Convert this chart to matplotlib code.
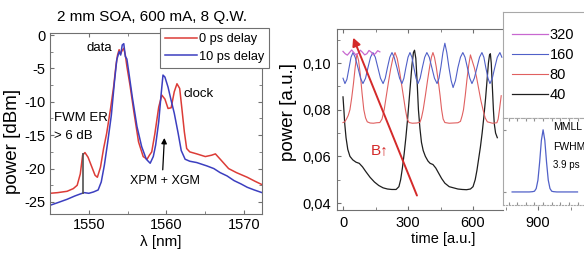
import matplotlib
matplotlib.use('Agg')
import matplotlib.pyplot as plt
from matplotlib.ticker import MultipleLocator, FuncFormatter

plt.rcParams['font.family'] = ['Liberation Sans', 'DejaVu Sans']
plt.rcParams['axes.unicode_minus'] = False

# --- left panel: optical spectra ---
red_wl = [1545.0, 1546.0, 1547.2, 1548.0, 1548.5, 1548.9, 1549.2, 1549.5, 1549.9, 1550.4,
          1550.8, 1551.1, 1551.5, 1551.9, 1552.3, 1552.8, 1553.2, 1553.5, 1553.7, 1553.9,
          1554.1, 1554.3, 1554.5, 1554.7, 1554.9, 1555.3, 1555.8, 1556.4, 1557.0, 1557.5,
          1557.8, 1558.1, 1558.5, 1559.0, 1559.4, 1559.8, 1560.2, 1560.6, 1561.0, 1561.35,
          1561.7, 1562.0, 1562.3, 1562.6, 1563.0, 1563.9, 1565.0, 1565.8, 1566.3, 1567.0,
          1568.0, 1569.0, 1570.4, 1571.4, 1572.3]
red_pw = [-23.7, -23.6, -23.4, -23.0, -22.5, -20.8, -18.0, -17.6, -18.3, -19.8,
          -21.0, -21.3, -19.8, -17.0, -14.7, -11.0, -7.7, -4.5, -3.0, -2.2,
          -2.8, -2.3, -2.0, -3.0, -4.7, -7.5, -11.5, -16.0, -18.2, -18.6,
          -18.0, -17.5, -14.8, -10.8, -9.0, -9.6, -11.0, -10.9, -8.5, -7.3,
          -8.0, -11.2, -14.5, -17.0, -17.5, -17.8, -18.2, -18.0, -17.8, -18.7,
          -20.0, -20.6, -21.3, -21.9, -22.4]

blue_wl = [1545.0, 1546.0, 1547.2, 1548.2, 1548.9, 1549.4, 1550.0, 1550.6, 1551.2, 1551.6,
           1552.0, 1552.4, 1552.9, 1553.3, 1553.6, 1553.9, 1554.1, 1554.3, 1554.5, 1554.7,
           1554.9, 1555.2, 1555.6, 1556.2, 1556.8, 1557.4, 1557.9, 1558.3, 1558.6, 1559.0,
           1559.3, 1559.55, 1559.8, 1560.2, 1560.6, 1561.0, 1561.5, 1561.9, 1562.4, 1563.0,
           1563.9, 1565.2, 1566.1, 1566.9, 1567.8, 1568.7, 1569.6, 1570.4, 1571.3, 1572.3]
blue_pw = [-25.5, -25.1, -24.6, -24.1, -23.8, -23.6, -23.7, -23.5, -23.2, -22.0,
           -19.5, -16.3, -12.0, -7.0, -3.7, -2.5, -3.0, -1.5, -1.3, -3.2,
           -3.6, -6.0, -9.3, -13.7, -16.7, -18.6, -19.2, -18.2, -16.5, -13.0,
           -9.0, -6.0, -6.3, -7.8, -9.8, -11.7, -14.7, -17.3, -18.6, -18.9,
           -19.1, -19.6, -20.0, -20.6, -21.1, -21.8, -22.3, -22.8, -23.2, -23.6]

spec_labels = ['0 ps delay', '10 ps delay']

# --- right panel: time traces for several B values ---
t40 = [0, 4, 8, 14, 22, 32, 45, 60, 75, 90, 105, 125, 145, 165, 185, 205, 225, 245, 258,
       266, 274, 282, 290, 298, 305, 312, 318, 325, 330, 336, 342, 348, 355, 362, 370,
       380, 392, 402, 415, 428, 440, 455, 470, 490, 510, 530, 550, 570, 588, 600, 610,
       618, 626, 634, 642, 650, 658, 665, 671, 676, 680, 684, 689, 694, 698, 704, 712]
p40 = [0.0855, 0.080, 0.074, 0.068, 0.063, 0.060, 0.0585, 0.0575, 0.057, 0.0555, 0.0535,
       0.051, 0.049, 0.0475, 0.0465, 0.046, 0.0458, 0.0458, 0.047, 0.050, 0.055, 0.061,
       0.068, 0.076, 0.084, 0.092, 0.099, 0.1045, 0.1055, 0.102, 0.092, 0.080, 0.072,
       0.066, 0.0625, 0.060, 0.058, 0.057, 0.0565, 0.055, 0.053, 0.0505, 0.0485, 0.047,
       0.0465, 0.046, 0.0458, 0.0457, 0.046, 0.047, 0.050, 0.054, 0.059, 0.064, 0.070,
       0.077, 0.085, 0.093, 0.100, 0.1035, 0.104, 0.100, 0.090, 0.080, 0.074, 0.070, 0.068]

t80 = [0, 8, 16, 24, 32, 40, 48, 56, 64, 72, 80, 88, 96, 104, 112, 125, 140, 155, 170,
       180, 190, 200, 210, 220, 230, 240, 250, 260, 270, 280, 288, 296, 305, 320, 340,
       355, 362, 370, 380, 390, 400, 408, 415, 422, 430, 440, 448, 455, 462, 470, 490,
       510, 530, 542, 550, 556, 564, 572, 580, 588, 596, 606, 616, 626, 636, 646, 656,
       666, 690, 710, 716, 722, 730]
p80 = [0.0745, 0.0748, 0.0760, 0.0775, 0.0800, 0.0850, 0.0910, 0.0980, 0.1040, 0.1010,
       0.0950, 0.0870, 0.0800, 0.0765, 0.0748, 0.0743, 0.0742, 0.0744, 0.0745,
       0.0760, 0.0800, 0.0860, 0.0920, 0.0975, 0.1020, 0.1045, 0.1020, 0.0970, 0.0910,
       0.0850, 0.0800, 0.0760, 0.0745, 0.0742, 0.0743, 0.0746,
       0.0765, 0.0800, 0.0860, 0.0925, 0.0985, 0.1025, 0.1045, 0.1025, 0.0985, 0.0920,
       0.0860, 0.0800, 0.0760, 0.0745, 0.0742, 0.0743, 0.0744, 0.0750,
       0.0775, 0.0800, 0.0860, 0.0930, 0.0990, 0.1035, 0.1010, 0.0980, 0.0940, 0.0890,
       0.0840, 0.0800, 0.0765, 0.0748, 0.0742, 0.0744, 0.0760, 0.0800, 0.0860]

t160 = [0, 9, 18, 28, 37, 46, 56, 69, 81, 92, 104, 115, 127, 138, 149, 161, 173, 185, 195,
        205, 216, 226, 236, 249, 261, 272, 281, 290, 300, 309, 318, 327, 337, 346, 356,
        366, 377, 387, 398, 410, 422, 434, 443, 452, 461, 470, 479, 489, 499, 508, 519,
        530, 542, 553, 563, 574, 585, 595, 606, 618, 630, 641, 650, 659, 669, 678, 689,
        700, 712, 724, 733]
p160 = [0.0935, 0.0912, 0.0930, 0.098, 0.1025, 0.1045, 0.1025, 0.098, 0.0935, 0.0912,
        0.0935, 0.098, 0.1025, 0.1045, 0.1025, 0.098, 0.0935, 0.0912, 0.0935, 0.098,
        0.1025, 0.1045, 0.1025, 0.098, 0.0935, 0.0912, 0.0935, 0.098, 0.1025, 0.1045,
        0.1025, 0.098, 0.0935, 0.0912, 0.0935, 0.098, 0.1025, 0.1045, 0.1025, 0.098,
        0.0935, 0.0912, 0.0935, 0.0985, 0.1045, 0.1085, 0.1045, 0.098, 0.0925, 0.0895,
        0.0925, 0.098, 0.1025, 0.1045, 0.1025, 0.098, 0.0935, 0.0912, 0.0935, 0.098,
        0.1025, 0.1045, 0.1025, 0.098, 0.0935, 0.0912, 0.0935, 0.098, 0.1025, 0.1045, 0.1025]

t320 = [0, 10, 20, 30, 40, 50, 60, 70, 80, 90, 100, 110, 120, 130, 140, 150, 160, 170]
p320 = [0.1050, 0.1040, 0.1034, 0.1045, 0.1056, 0.1045, 0.1034, 0.1042, 0.1055, 0.1046,
        0.1035, 0.1040, 0.1054, 0.1047, 0.1035, 0.1041, 0.1053, 0.1048]

# MMLL pulse (inset), time in ps
pulse_t = [-18, -8, -6, -5, -4, -3, -2, -1, 0, 1, 2, 3, 4, 5, 6, 8, 20]
pulse_p = [0, 0, 0.005, 0.012, 0.055, 0.19, 0.48, 0.83, 1.0, 0.83, 0.48, 0.19, 0.055, 0.012, 0.005, 0, 0]

RED = '#dc3c37'
BLUE = '#3c3fc0'
GREY = '#707070'

fig = plt.figure(figsize=(5.84, 2.56), dpi=100)

# ---------------- left panel ----------------
ax1 = fig.add_axes([50 / 584, 42 / 256, 212 / 584, 181 / 256])
ax1.plot(red_wl, red_pw, color=RED, lw=1.1, label=spec_labels[0])
ax1.plot(blue_wl, blue_pw, color=BLUE, lw=1.1, label=spec_labels[1])
ax1.set_xlim(1545, 1572.3)
ax1.set_ylim(-26.8, 0.3)
ax1.xaxis.set_major_locator(MultipleLocator(10))
ax1.xaxis.set_minor_locator(MultipleLocator(5))
ax1.yaxis.set_major_locator(MultipleLocator(5))
ax1.yaxis.set_minor_locator(MultipleLocator(2.5))
ax1.tick_params(which='both', direction='in', top=True, right=True, color=GREY,
                labelsize=10.5, pad=3)
ax1.tick_params(which='major', length=3)
ax1.tick_params(which='minor', length=2)
for s in ax1.spines.values():
    s.set_color(GREY)
    s.set_linewidth(0.8)
ax1.set_ylabel('power [dBm]', fontsize=13.5)
ax1.yaxis.set_label_coords(-0.135, 0.40)
ax1.set_xlabel('λ [nm]', fontsize=11)
ax1.xaxis.set_label_coords(0.524, -0.115)

ax1.vlines(1549.25, -23.8, -17.7, color='#505050', lw=1.2)
ax1.annotate('', xy=(1559.75, -15.0), xytext=(1559.5, -20.6),
             arrowprops=dict(arrowstyle='-|>', color='black', lw=0.9, mutation_scale=8))
ax1.text(1551.4, -1.95, 'data', fontsize=9.5, ha='center', va='center')
ax1.text(1562.2, -8.8, 'clock', fontsize=9.5, ha='left', va='center')
ax1.text(1545.5, -12.4, 'FWM ER', fontsize=9.5, ha='left', va='center')
ax1.text(1545.5, -15.1, '> 6 dB', fontsize=9.5, ha='left', va='center')
ax1.text(1559.8, -21.9, 'XPM + XGM', fontsize=9, ha='center', va='center')

leg1 = ax1.legend(loc='upper left', bbox_to_anchor=(160 / 584, 1 - 28 / 256),
                  bbox_transform=fig.transFigure, borderaxespad=0, fontsize=9.2,
                  handlelength=2.5, handletextpad=0.12, labelspacing=0.42,
                  borderpad=0.42, fancybox=False, framealpha=1, edgecolor=GREY)
leg1.get_frame().set_linewidth(0.8)

fig.text(152 / 584, 1 - 17 / 256, '2 mm SOA, 600 mA, 8 Q.W.', ha='center', va='center',
         fontsize=11)

# ---------------- right panel ----------------
ax2 = fig.add_axes([337 / 584, 46 / 256, 247 / 584, 181 / 256])
l40, = ax2.plot(t40, p40, color='#1e1e1e', lw=0.9, label='40')
l80, = ax2.plot(t80, p80, color='#e06060', lw=0.8, label='80')
l160, = ax2.plot(t160, p160, color='#5060c8', lw=0.8, label='160')
l320, = ax2.plot(t320, p320, color='#c868d0', lw=0.9, label='320')
ax2.set_xlim(-27.7, 1112)
ax2.set_ylim(0.037, 0.1146)
ax2.xaxis.set_major_locator(MultipleLocator(300))
ax2.xaxis.set_minor_locator(MultipleLocator(150))
ax2.yaxis.set_major_locator(MultipleLocator(0.02))
ax2.yaxis.set_minor_locator(MultipleLocator(0.01))
ax2.yaxis.set_major_formatter(FuncFormatter(lambda v, p: f'{v:.2f}'.replace('.', ',')))
ax2.tick_params(which='both', direction='in', top=True, right=False, color=GREY,
                labelsize=10.5, pad=4)
ax2.tick_params(which='major', length=3)
ax2.tick_params(which='minor', length=2)
ax2.spines['right'].set_visible(False)
for s in ax2.spines.values():
    s.set_color(GREY)
    s.set_linewidth(0.8)
ax2.spines['top'].set_bounds(-27.7, 738)
ax2.spines['bottom'].set_bounds(-27.7, 738)
ax2.set_ylabel('power [a.u.]', fontsize=13.5)
ax2.yaxis.set_label_coords(-0.16, 0.54)
ax2.set_xlabel('time [a.u.]', fontsize=10.5)
ax2.xaxis.set_label_coords(0.429, -0.12)

ax2.annotate('', xy=(42, 0.112), xytext=(346, 0.0421),
             arrowprops=dict(arrowstyle='-|>', color='#d42a2a', lw=1.4, mutation_scale=12))
ax2.text(170, 0.0627, 'B↑', color='#d42a2a', fontsize=11, ha='center', va='center')

# legend box
ax_leg = fig.add_axes([503 / 584, 138 / 256, 90 / 584, 106 / 256])
ax_leg.set_xticks([])
ax_leg.set_yticks([])
for s in ax_leg.spines.values():
    s.set_color('#a8a8a8')
    s.set_linewidth(0.8)
ax_leg.legend(handles=[l320, l160, l80, l40], loc='center left', frameon=False,
              fontsize=10.5, handlelength=2.5, handletextpad=0.1, labelspacing=0.42,
              borderaxespad=0.2)

# MMLL inset
ax_in = fig.add_axes([503 / 584, 51 / 256, 90 / 584, 87 / 256])
ax_in.plot(pulse_t, pulse_p, color='#5060c8', lw=0.9)
ax_in.set_xlim(-23.3, 29.0)
ax_in.set_ylim(-0.21, 1.19)
ax_in.xaxis.set_major_locator(MultipleLocator(5))
ax_in.set_yticks([0, 1])
ax_in.tick_params(which='both', direction='in', top=True, length=2, color='#909090',
                  labelbottom=False, labelleft=False)
for s in ax_in.spines.values():
    s.set_color('#a8a8a8')
    s.set_linewidth(0.8)
ax_in.spines['bottom'].set_linestyle(':')
ax_in.spines['top'].set_linestyle('--')
ax_in.text(0.556, 0.897, 'MMLL', transform=ax_in.transAxes, fontsize=7.5,
           ha='left', va='center')
ax_in.text(0.556, 0.667, 'FWHM', transform=ax_in.transAxes, fontsize=7.5,
           ha='left', va='center')
ax_in.text(0.556, 0.46, '3.9 ps', transform=ax_in.transAxes, fontsize=7,
           ha='left', va='center')

fig.savefig('out.png', dpi=100)
